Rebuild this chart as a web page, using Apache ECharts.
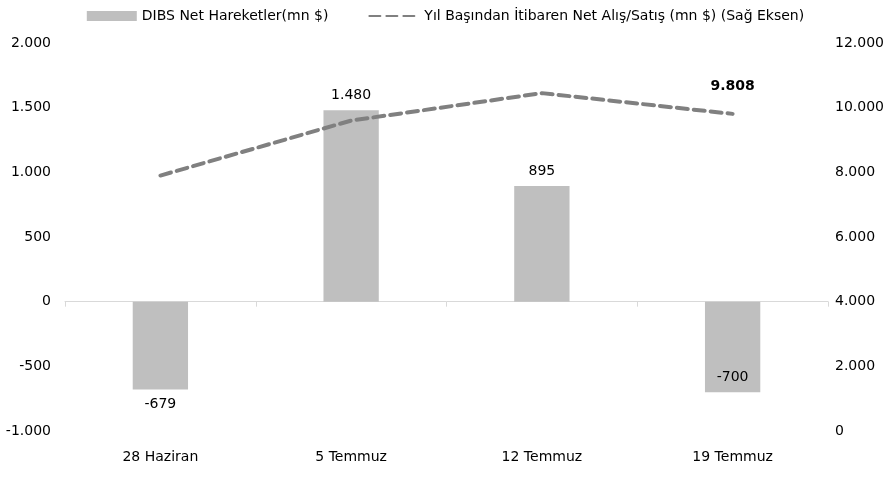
<!DOCTYPE html>
<html>
<head>
<meta charset="utf-8">
<script src="https://cdn.jsdelivr.net/npm/echarts@6/dist/echarts.min.js"></script>
<style>
  html, body { margin: 0; padding: 0; background: #fff; }
  #chart { width: 891px; height: 494px; }
</style>
</head>
<body>
<div id="chart"></div>
<script>
// data
const categories = ['28 Haziran', '5 Temmuz', '12 Temmuz', '19 Temmuz']
const netMoves = [-679, 1480, 895, -700]
const ytdNet = [7900, 9600, 10450, 9808]
const barName = 'DIBS Net Hareketler(mn $)'
const lineName = 'Yıl Başından İtibaren Net Alış/Satış (mn $) (Sağ Eksen)'

const fmt = v => String(v).replace(/\B(?=(\d{3})+(?!\d))/g, '.')
const font = 'DejaVu Sans'

const chart = echarts.init(document.getElementById('chart'))

const barData = netMoves.map((v, i) => {
  let pos = v >= 0 ? 'top' : 'bottom'
  if (i === netMoves.length - 1) pos = 'insideBottom'
  return { value: v, label: { position: pos } }
})

const lineData = ytdNet.map((v, i) => ({
  value: v,
  label: { show: i === ytdNet.length - 1 }
}))

chart.setOption({
  animation: false,
  textStyle: { fontFamily: font },
  legend: {
    top: 4,
    left: 'center',
    itemGap: 40,
    textStyle: { color: '#000', fontSize: 14, fontFamily: font },
    data: [
      { name: barName, icon: 'rect', itemStyle: { color: '#bfbfbf' } },
      { name: lineName }
    ],
    itemWidth: 50,
    itemHeight: 10
  },
  grid: { left: 65, right: 63, top: 43, bottom: 63 },
  xAxis: [
    {
      type: 'category',
      data: categories,
      axisLine: { onZero: true, lineStyle: { color: '#d9d9d9' } },
      axisTick: { show: true, length: 5, lineStyle: { color: '#d9d9d9' } },
      axisLabel: { show: false }
    },
    {
      type: 'category',
      data: categories,
      position: 'bottom',
      axisLine: { show: false, onZero: false },
      axisTick: { show: false },
      axisLabel: { color: '#000', fontSize: 14, margin: 19 }
    }
  ],
  yAxis: [
    {
      type: 'value',
      min: -1000,
      max: 2000,
      interval: 500,
      splitLine: { show: false },
      axisLine: { show: false },
      axisTick: { show: false },
      axisLabel: { color: '#000', fontSize: 14, margin: 14, formatter: fmt }
    },
    {
      type: 'value',
      min: 0,
      max: 12000,
      interval: 2000,
      splitLine: { show: false },
      axisLine: { show: false },
      axisTick: { show: false },
      axisLabel: { color: '#000', fontSize: 14, margin: 7, formatter: fmt }
    }
  ],
  series: [
    {
      name: barName,
      type: 'bar',
      data: barData,
      barWidth: '29%',
      itemStyle: { color: '#bfbfbf' },
      label: {
        show: true,
        color: '#000',
        fontSize: 14,
        distance: 8,
        formatter: p => fmt(p.value)
      }
    },
    {
      name: lineName,
      type: 'line',
      yAxisIndex: 1,
      data: lineData,
      symbol: 'circle',
      symbolSize: 2,
      showSymbol: true,
      lineStyle: { color: '#808080', width: 4, type: [11, 6], cap: 'round' },
      itemStyle: { color: 'rgba(128,128,128,0)' },
      label: {
        position: 'top',
        distance: 20,
        color: '#000',
        fontSize: 14,
        fontWeight: 'bold',
        formatter: p => fmt(p.value)
      }
    }
  ]
})
</script>
</body>
</html>
